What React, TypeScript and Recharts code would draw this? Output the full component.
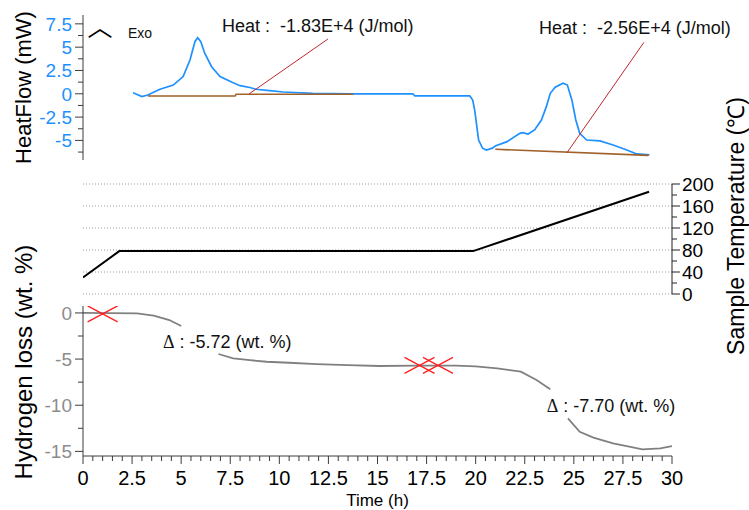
import React from 'react'
import { ComposedChart, Line, Scatter, XAxis, YAxis, CartesianGrid, ReferenceLine, ReferenceDot } from 'recharts'

const W = 749
const H = 510
const FONT = '"Liberation Sans", Arial, sans-serif'
const SERIF = '"Liberation Serif", "Times New Roman", serif'

const BLUE = '#1e90ff'
const BROWN = '#a0622a'
const LEADER = '#c0282d'
const MARK = '#ff1f1f'
const GRAY = '#808080'
const AXIS = '#3c3c3c'

// time axis (h)
const timeDomain = [0, 30]
const timeLabels = [0, 2.5, 5, 7.5, 10, 12.5, 15, 17.5, 20, 22.5, 25, 27.5, 30]

// heat flow (mW)
const heatDomain = [-7.1, 8.45]
const heatLabels = [-5, -2.5, 0, 2.5, 5, 7.5]
const heatTicks = [-6.25, -5, -3.75, -2.5, -1.25, 0, 1.25, 2.5, 3.75, 5, 6.25, 7.5]
const heatTime = [2.55, 3.0, 3.3, 3.92, 4.6, 5.1, 5.45, 5.7, 5.84, 6.0, 6.2, 6.55, 6.98, 7.65, 8.0, 8.5, 8.8, 9.5, 10.2, 11.7, 13.7, 16.8, 16.9, 19.7, 19.85, 19.95, 20.15, 20.35, 20.55, 20.85, 21.0, 21.6, 22.25, 22.4, 22.67, 23.0, 23.35, 23.6, 23.8, 24.05, 24.45, 24.67, 24.9, 25.1, 25.3, 25.65, 26.33, 27.0, 27.7, 28.2, 28.85]
const heatFlow = [0.12, -0.29, -0.13, 0.49, 0.94, 1.85, 3.62, 5.59, 6.02, 5.59, 4.35, 2.9, 1.84, 1.19, 0.87, 0.68, 0.49, 0.34, 0.19, 0.05, 0, 0, -0.23, -0.23, -0.68, -1.75, -4.96, -5.83, -6.03, -5.83, -5.6, -5.13, -4.24, -4.17, -4.32, -3.88, -2.81, -1.38, 0.05, 0.7, 1.13, 0.94, -0.66, -2.81, -4.24, -4.96, -5.05, -5.49, -6.03, -6.45, -6.56]
const base1Time = [3.3, 7.75, 7.8, 13.77]
const base1Flow = [-0.23, -0.23, -0.05, -0.05]
const base2Time = [21.0, 28.8]
const base2Flow = [-5.95, -6.6]
const heatNotes = ['Heat :\u00a0\u00a0-1.83E+4 (J/mol)', 'Heat :\u00a0\u00a0-2.56E+4 (J/mol)']

// sample temperature (°C)
const tempDomain = [0, 200]
const tempLabels = [0, 40, 80, 120, 160, 200]
const tempTicks = [0, 20, 40, 60, 80, 100, 120, 140, 160, 180, 200]
const tempTime = [0, 1.85, 19.87, 28.83]
const tempValue = [30, 78, 78, 186]

// hydrogen loss (wt. %)
const lossDomain = [-15.5, 0.75]
const lossLabels = [-15, -10, -5, 0]
const lossTicks = [-15, -12.5, -10, -7.5, -5, -2.5, 0]
const lossTime = [0, 2.75, 3.6, 4.4, 5.0, 5.9, 6.9, 7.65, 8.5, 9.35, 10.5, 11.9, 13.5, 15.1, 17.0, 19.0, 20.0, 21.1, 22.3, 23.1, 23.8, 24.2, 24.7, 25.3, 26.0, 27.0, 28.5, 29.4, 30]
const lossValue = [0, -0.05, -0.3, -0.77, -1.42, null, -4.45, -4.92, -5.12, -5.29, -5.4, -5.54, -5.65, -5.75, -5.72, -5.72, -5.8, -6.0, -6.37, -7.27, -8.28, null, -11.42, -12.87, -13.5, -14.13, -14.78, -14.67, -14.42]
const markTime = [1.0, 17.14, 18.08]
const markValue = [-0.1, -5.68, -5.68]
const lossNotes = ['\u00a0: -5.72 (wt. %)', '\u00a0: -7.70 (wt. %)']

const zip = (xs: number[], ys: (number | null)[], key: string) => xs.map((t, i) => ({ t, [key]: ys[i] }))

const heatData = zip(heatTime, heatFlow, 'v')
const base1Data = zip(base1Time, base1Flow, 'v')
const base2Data = zip(base2Time, base2Flow, 'v')
const tempData = zip(tempTime, tempValue, 'v')
const lossData = zip(lossTime, lossValue, 'v')
const markData = zip(markTime, markValue, 'v')

// where the annotations sit, in data units
const heatNoteAt = [{ t: 7.08, v: 6.63 }, { t: 23.23, v: 6.36 }]
const leaderA = [{ x: 8.455, y: -0.02 }, { x: 12.48, y: 5.88 }]
const leaderB = [{ x: 24.65, y: -6.32 }, { x: 28.57, y: 5.52 }]
const lossNoteAt = [{ t: 4.07, v: -3.8 }, { t: 23.62, v: -10.7 }]

const minorTicks = (major: number[], parts: number) => {
  const out: number[] = []
  for (let i = 0; i < major.length - 1; i++) {
    for (let k = 0; k < parts; k++) out.push(+(major[i] + ((major[i + 1] - major[i]) * k) / parts).toFixed(4))
  }
  out.push(major[major.length - 1])
  return out
}
const timeTicks = minorTicks(timeLabels, 5)

const TICK = 8
const MINOR = 5
const GAP = 3

function LeftTick({ x, y, payload, labels, color }: any) {
  const v = payload.value
  const major = labels.includes(v)
  const ax = x + TICK + GAP
  return (
    <g>
      <line x1={ax - (major ? TICK : MINOR)} x2={ax} y1={y} y2={y} stroke={AXIS} />
      {major && (
        <text x={x} y={y} dy="0.36em" textAnchor="end" fontSize={19} fontFamily={FONT} fill={color}>
          {v}
        </text>
      )}
    </g>
  )
}

function RightTick({ x, y, payload }: any) {
  const v = payload.value
  const major = tempLabels.includes(v)
  const ax = x - TICK - 2
  return (
    <g>
      <line x1={ax} x2={ax + (major ? TICK : MINOR)} y1={y} y2={y} stroke="#222" />
      {major && (
        <text x={x} y={y} dy="0.36em" textAnchor="start" fontSize={19} fontFamily={FONT} fill="#000">
          {v}
        </text>
      )}
    </g>
  )
}

function BottomTick({ x, y, payload }: any) {
  const v = payload.value
  const major = timeLabels.includes(v)
  const ay = y - TICK - 7
  return (
    <g>
      <line x1={x} x2={x} y1={ay} y2={ay + (major ? TICK : MINOR)} stroke={AXIS} />
      {major && (
        <text x={x} y={y} dy="0.71em" textAnchor="middle" fontSize={20} fontFamily={FONT} fill="#000">
          {v}
        </text>
      )}
    </g>
  )
}

const vTitle = (text: string, dx: number, dy: number, size: number) => (p: any) => {
  const vb = p.viewBox
  const cx = vb.x + dx
  const cy = vb.y + vb.height / 2 + dy
  return (
    <text x={cx} y={cy} transform={`rotate(-90 ${cx} ${cy})`} textAnchor="middle" dominantBaseline="central" fontSize={size} fontFamily={FONT} fill="#000">
      {text}
    </text>
  )
}

function CrossMark({ cx, cy }: any) {
  return (
    <g stroke={MARK} strokeWidth={1.3}>
      <line x1={cx - 15} y1={cy - 8} x2={cx + 15} y2={cy + 8} />
      <line x1={cx - 15} y1={cy + 8} x2={cx + 15} y2={cy - 8} />
    </g>
  )
}

const layer: React.CSSProperties = { position: 'absolute', left: 0, top: 0 }

function HeatPanel() {
  return (
    <ComposedChart width={W} height={H} margin={{ top: 15, right: 77, bottom: 350, left: 0 }}>
      <XAxis type="number" dataKey="t" domain={timeDomain} hide allowDataOverflow />
      <YAxis
        type="number"
        domain={heatDomain}
        ticks={heatTicks}
        interval={0}
        allowDataOverflow
        width={83}
        tickSize={TICK}
        tickMargin={GAP}
        tickLine={false}
        stroke={AXIS}
        tick={(p: any) => <LeftTick {...p} labels={heatLabels} color={BLUE} />}
        label={vTitle('HeatFlow (mW)', 23, 0, 22)}
      />
      <Line data={heatData} dataKey="v" type="linear" stroke={BLUE} strokeWidth={1.7} dot={false} isAnimationActive={false} />
      <Line data={base1Data} dataKey="v" type="linear" stroke={BROWN} strokeWidth={1.6} dot={false} isAnimationActive={false} />
      <Line data={base2Data} dataKey="v" type="linear" stroke={BROWN} strokeWidth={1.6} dot={false} isAnimationActive={false} />
      <ReferenceLine segment={leaderA} stroke={LEADER} strokeWidth={1} ifOverflow="visible" />
      <ReferenceLine segment={leaderB} stroke={LEADER} strokeWidth={1} ifOverflow="visible" />
      {heatNoteAt.map((a, i) => (
        <ReferenceDot
          key={i}
          x={a.t}
          y={a.v}
          r={0}
          ifOverflow="visible"
          label={(p: any) => (
            <text x={p.viewBox.x} y={p.viewBox.y} fontSize={18} fontFamily={FONT} fill="#111">
              {heatNotes[i]}
            </text>
          )}
        />
      ))}
      <ReferenceDot
        x={0.87}
        y={6.2}
        r={0}
        ifOverflow="visible"
        label={(p: any) => (
          <text x={p.viewBox.x} y={p.viewBox.y} textAnchor="middle" fontSize={25} fontFamily='"Noto Sans CJK SC", sans-serif' fill="#000">
            ︿
          </text>
        )}
      />
      <ReferenceDot
        x={2.29}
        y={6.02}
        r={0}
        ifOverflow="visible"
        label={(p: any) => (
          <text x={p.viewBox.x} y={p.viewBox.y} fontSize={14} fontFamily={FONT} fill="#111">
            Exo
          </text>
        )}
      />
    </ComposedChart>
  )
}

function TempPanel() {
  return (
    <ComposedChart width={W} height={H} margin={{ top: 184, right: 0, bottom: 216, left: 83 }}>
      <CartesianGrid vertical={false} horizontalValues={tempLabels} stroke="#9a9a9a" strokeDasharray="1 2" />
      <XAxis type="number" dataKey="t" domain={timeDomain} hide allowDataOverflow />
      <YAxis
        type="number"
        orientation="right"
        domain={tempDomain}
        ticks={tempTicks}
        interval={0}
        width={77}
        tickSize={TICK}
        tickMargin={2}
        tickLine={false}
        stroke="#222"
        tick={(p: any) => <RightTick {...p} />}
        label={vTitle('Sample Temperature (℃)', 64, -13, 23)}
      />
      <Line data={tempData} dataKey="v" type="linear" stroke="#000" strokeWidth={2} dot={false} isAnimationActive={false} />
    </ComposedChart>
  )
}

function LossPanel() {
  return (
    <ComposedChart width={W} height={H} margin={{ top: 306, right: 77, bottom: 0, left: 0 }}>
      <XAxis
        type="number"
        dataKey="t"
        domain={timeDomain}
        ticks={timeTicks}
        interval={0}
        allowDataOverflow
        height={54}
        tickSize={TICK}
        tickMargin={7}
        tickLine={false}
        stroke={AXIS}
        tick={(p: any) => <BottomTick {...p} />}
        label={(p: any) => (
          <text x={p.viewBox.x + p.viewBox.width / 2} y={p.viewBox.y + 50} textAnchor="middle" fontSize={17} fontFamily={FONT} fill="#000">
            Time (h)
          </text>
        )}
      />
      <YAxis
        type="number"
        domain={lossDomain}
        ticks={lossTicks}
        interval={0}
        allowDataOverflow
        width={83}
        tickSize={TICK}
        tickMargin={GAP}
        tickLine={false}
        stroke={AXIS}
        tick={(p: any) => <LeftTick {...p} labels={lossLabels} color="#8c8c8c" />}
        label={vTitle('Hydrogen loss (wt. %)', 23, -19, 24)}
      />
      <Line data={lossData} dataKey="v" type="linear" stroke={GRAY} strokeWidth={1.8} dot={false} isAnimationActive={false} />
      <Scatter data={markData} dataKey="v" shape={(p: any) => <CrossMark {...p} />} isAnimationActive={false} />
      {lossNoteAt.map((a, i) => (
        <ReferenceDot
          key={i}
          x={a.t}
          y={a.v}
          r={0}
          ifOverflow="visible"
          label={(p: any) => (
            <text x={p.viewBox.x} y={p.viewBox.y} fontSize={18} fontFamily={FONT} fill="#111">
              <tspan fontFamily={SERIF}>Δ</tspan>
              <tspan>{lossNotes[i]}</tspan>
            </text>
          )}
        />
      ))}
    </ComposedChart>
  )
}

export default function App() {
  return (
    <div style={{ position: 'absolute', left: 0, top: 0, width: W, height: H, background: '#fff' }}>
      <div style={layer}>
        <TempPanel />
      </div>
      <div style={layer}>
        <HeatPanel />
      </div>
      <div style={layer}>
        <LossPanel />
      </div>
    </div>
  )
}
